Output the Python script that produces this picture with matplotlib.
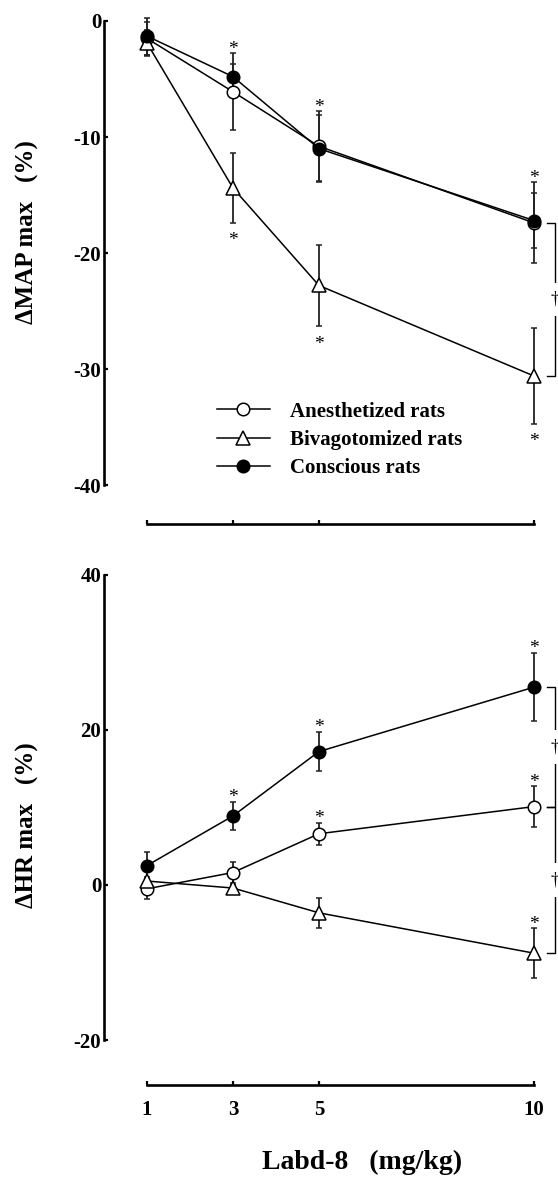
import matplotlib.pyplot as plt
from matplotlib.lines import Line2D

plt.rcParams['font.family'] = ['Liberation Serif', 'DejaVu Serif']
plt.rcParams['axes.unicode_minus'] = False

# Labd-8 doses (mg/kg)
dose = [1, 3, 5, 10]
dose_labels = ['1', '3', '5', '10']

# Delta MAP max (%)
anest_map = [-1.5, -6.1, -10.8, -17.4]
anest_map_se = [1.4, 3.3, 3.0, 3.5]
bivag_map = [-1.9, -14.4, -22.8, -30.6]
bivag_map_se = [1.1, 3.0, 3.5, 4.1]
consc_map = [-1.3, -4.8, -11.0, -17.2]
consc_map_se = [1.6, 1.1, 2.9, 2.4]

# Delta HR max (%)
anest_hr = [-0.5, 1.6, 6.6, 10.1]
anest_hr_se = [1.3, 1.4, 1.4, 2.6]
bivag_hr = [0.5, -0.4, -3.6, -8.8]
bivag_hr_se = [0.5, 0.4, 1.9, 3.2]
consc_hr = [2.5, 8.9, 17.2, 25.5]
consc_hr_se = [1.8, 1.8, 2.5, 4.4]

# significance marks (*)
map_anest_sig = [False, True, True, True]
map_bivag_sig = [False, True, True, True]
hr_consc_sig = [False, True, True, True]
hr_anest_sig = [False, False, True, True]
hr_bivag_sig = [False, False, False, True]

labels = ['Anesthetized rats', 'Bivagotomized rats', 'Conscious rats']

fig = plt.figure(figsize=(5.58, 11.78), dpi=100)
ax1 = fig.add_axes([104 / 558, 1 - 524 / 1178, 454 / 558, 524 / 1178])
ax2 = fig.add_axes([104 / 558, 1 - 1085 / 1178, 454 / 558, 525 / 1178])


def series(ax, y, se, marker, face, ms):
    ax.errorbar(dose, y, yerr=se, color='black', lw=1.1, marker=marker, ms=ms,
                mfc=face, mec='black', mew=1.1, ecolor='#222222', elinewidth=1.3,
                capsize=2.5, capthick=1.3, zorder=3)


def stars(ax, y, se, flags, side):
    for xi, yi, ei, f in zip(dose, y, se, flags):
        if not f:
            continue
        if side > 0:
            ax.annotate('*', (xi, yi + ei), xytext=(0, 3), textcoords='offset points',
                        ha='center', va='center', fontsize=14)
        else:
            ax.annotate('*', (xi, yi - ei), xytext=(0, -13), textcoords='offset points',
                        ha='center', va='center', fontsize=14)


def bracket(ax, y_top, y_bot):
    ax.plot([10.3, 10.49, 10.49, 10.3], [y_top, y_top, y_bot, y_bot],
            color='black', lw=1.0, clip_on=False, zorder=2)
    ax.text(10.49, (y_top + y_bot) / 2, '\u2020', ha='center', va='center', fontsize=13,
            bbox=dict(boxstyle='square,pad=0.45', fc='white', ec='none'), clip_on=False, zorder=4)


# top panel
series(ax1, anest_map, anest_map_se, 'o', 'white', 9)
series(ax1, bivag_map, bivag_map_se, '^', 'white', 10)
series(ax1, consc_map, consc_map_se, 'o', 'black', 9)
stars(ax1, anest_map, anest_map_se, map_anest_sig, 1)
stars(ax1, bivag_map, bivag_map_se, map_bivag_sig, -1)
bracket(ax1, anest_map[-1], bivag_map[-1])

# bottom panel
series(ax2, anest_hr, anest_hr_se, 'o', 'white', 9)
series(ax2, bivag_hr, bivag_hr_se, '^', 'white', 10)
series(ax2, consc_hr, consc_hr_se, 'o', 'black', 9)
stars(ax2, consc_hr, consc_hr_se, hr_consc_sig, 1)
stars(ax2, anest_hr, anest_hr_se, hr_anest_sig, 1)
stars(ax2, bivag_hr, bivag_hr_se, hr_bivag_sig, 1)
bracket(ax2, consc_hr[-1], anest_hr[-1])
bracket(ax2, anest_hr[-1], bivag_hr[-1])

for ax in (ax1, ax2):
    ax.set_facecolor('none')
    ax.spines[['top', 'right']].set_visible(False)
    ax.spines['left'].set_linewidth(1.9)
    ax.spines['bottom'].set_linewidth(1.9)
    ax.spines['bottom'].set_bounds(1, 10)
    ax.set_xlim(0, 10.56)
    ax.set_xticks(dose)
    ax.set_xticklabels(dose_labels)
    ax.tick_params(direction='in', length=3, width=1.6, labelsize=15)
    ax.tick_params(axis='y', pad=2)
    ax.tick_params(axis='x', pad=11)

ax1.set_ylim(-43.36, 1.81)
ax1.spines['left'].set_bounds(-40, 0)
ax1.set_yticks([0, -10, -20, -30, -40])
ax1.tick_params(axis='x', labelbottom=False)

ax2.set_ylim(-25.8, 41.9)
ax2.spines['left'].set_bounds(-20, 40)
ax2.set_yticks([-20, 0, 20, 40])

for ax in (ax1, ax2):
    plt.setp(ax.get_xticklabels() + ax.get_yticklabels(), fontweight='bold')

handles = [
    Line2D([], [], color='black', lw=1.1, marker='o', ms=9, mfc='white', mec='black', mew=1.1),
    Line2D([], [], color='black', lw=1.1, marker='^', ms=10, mfc='white', mec='black', mew=1.1),
    Line2D([], [], color='black', lw=1.1, marker='o', ms=9, mfc='black', mec='black', mew=1.1),
]
ax1.legend(handles, labels, loc='center', bbox_to_anchor=(340 / 558, 1 - 440 / 1178),
           bbox_transform=fig.transFigure, frameon=False,
           prop={'weight': 'bold', 'size': 15}, handlelength=2.5,
           handletextpad=1.0, labelspacing=0.4, borderpad=0)

fig.text(27 / 558, 1 - 232 / 1178, '\u0394MAP max   (%)', rotation=90,
         ha='center', va='center', fontsize=18, fontweight='bold')
fig.text(27 / 558, 1 - 825 / 1178, '\u0394HR max   (%)', rotation=90,
         ha='center', va='center', fontsize=18, fontweight='bold')
fig.text(362 / 558, 1 - 1162 / 1178, 'Labd-8   (mg/kg)', ha='center', va='center',
         fontsize=20, fontweight='bold')

fig.savefig('out.png', dpi=100, facecolor='white')
